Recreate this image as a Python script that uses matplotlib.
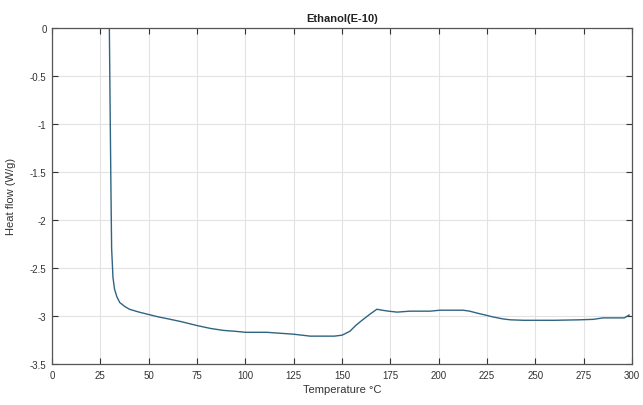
import numpy as np
import matplotlib.pyplot as plt

# temperature (C) and heat flow (W/g)
temp = [29.6, 30.0, 30.4, 30.8, 31.5, 32.3, 33.5, 35.0, 37.5, 40.0, 45.0, 49.0,
        55.0, 60.0, 67.0, 75.0, 82.0, 88.5, 95.0, 100.0, 106.0, 111.0, 118.0,
        125.0, 133.5, 140.0, 146.0, 150.0, 154.0, 157.0, 160.0, 164.5, 168.0,
        170.7, 174.0, 178.5, 185.0, 195.5, 200.7, 206.0, 212.6, 216.0, 219.8,
        224.0, 228.0, 233.0, 237.0, 244.0, 251.0, 260.0, 273.0, 280.0, 285.0,
        292.0, 296.0, 298.5]
heat = [0.05, -0.8, -1.6, -2.3, -2.6, -2.72, -2.8, -2.86, -2.9, -2.93, -2.96, -2.98,
        -3.01, -3.03, -3.06, -3.10, -3.13, -3.15, -3.16, -3.17, -3.17, -3.17, -3.18,
        -3.19, -3.21, -3.21, -3.21, -3.20, -3.16, -3.10, -3.05, -2.98, -2.93,
        -2.94, -2.95, -2.96, -2.95, -2.95, -2.94, -2.94, -2.94, -2.95, -2.97,
        -2.99, -3.01, -3.03, -3.04, -3.045, -3.045, -3.045, -3.04, -3.035, -3.02,
        -3.02, -3.02, -2.99]

xticks = np.arange(0, 301, 25)
yticks = np.arange(-3.5, 0.01, 0.5)
ylabels = ['-3.5', '-3', '-2.5', '-2', '-1.5', '-1', '-0.5', '0']

plt.rcParams['font.family'] = ['Liberation Sans Narrow', 'Liberation Sans', 'DejaVu Sans']

fig = plt.figure(figsize=(6.43, 4.06), dpi=100)
ax = fig.add_axes([0.081, 0.101, 0.902, 0.828])

ax.plot(temp, heat, color='#2f6482', linewidth=1.0)

ax.set_xlim(0, 300)
ax.set_ylim(-3.5, 0)
ax.set_xticks(xticks)
ax.set_xticklabels([str(t) for t in xticks])
ax.set_yticks(yticks)
ax.set_yticklabels(ylabels)
ax.grid(True, color='#e3e3e3', linewidth=0.8)
ax.tick_params(direction='in', top=True, right=True, length=4, width=0.8,
               labelsize=7, colors='#333333', pad=4)
for s in ax.spines.values():
    s.set_color('#555555')
    s.set_linewidth(0.9)

ax.set_title('Ethanol(E-10)', fontsize=8, fontweight='bold', color='#222222', pad=5)
ax.set_xlabel('Temperature \u00b0C', fontsize=8, color='#333333', labelpad=3)
ax.set_ylabel('Heat flow (W/g)', fontsize=8, color='#333333', labelpad=10)

fig.savefig('out.png', dpi=100)
